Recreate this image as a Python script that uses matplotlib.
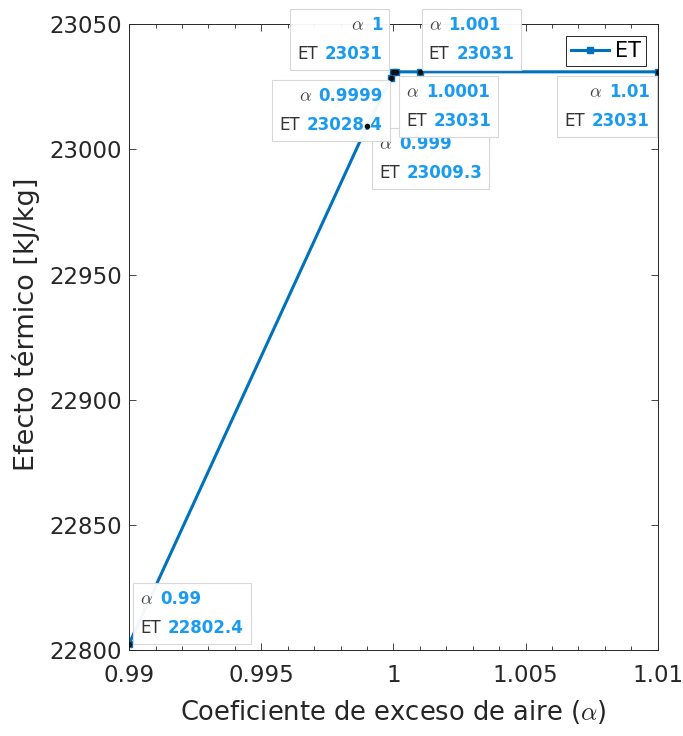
import matplotlib
matplotlib.use("Agg")
import matplotlib.pyplot as plt
from matplotlib.offsetbox import TextArea, HPacker, VPacker, AnnotationBbox
from matplotlib.ticker import MultipleLocator

plt.rcParams['font.family'] = ['DejaVu Sans']
plt.rcParams['mathtext.fontset'] = 'cm'

# data
alpha = [0.99, 0.999, 0.9999, 1.0, 1.0001, 1.001, 1.01]
et = [22802.4, 23009.3, 23028.4, 23031, 23031, 23031, 23031]
alpha_txt = ["0.99", "0.999", "0.9999", "1", "1.0001", "1.001", "1.01"]
et_txt = ["22802.4", "23009.3", "23028.4", "23031", "23031", "23031", "23031"]

# datatip placement: (frame corner at the point, frame offset in points, text alignment)
tips = [
    ((0, 0), (3, 0), 'left'),
    ((0, 1), (3.6, -1.4), 'left'),
    ((1, 1), (-0.7, -1.4), 'right'),
    ((1, 0), (-2.9, 1.4), 'right'),
    ((0, 1), (2.2, -2.9), 'left'),
    ((0, 0), (1.4, 1.4), 'left'),
    ((1, 1), (-0.7, -2.9), 'right'),
]

blue = '#0072BD'
val_col = '#1a9bf0'
dark = '#262626'
pad = 0.5  # frame padding, fraction of 10 pt

fig = plt.figure(figsize=(6.83, 7.36), dpi=100)
ax = fig.add_axes([0.189, 0.117, 0.774, 0.850])

ax.plot(alpha, et, color=blue, lw=2.2, marker='s', ms=4.5, label='ET')
ax.plot(alpha, et, ls='none', marker='o', ms=3, color='#111111', zorder=5)

ax.set_xlim(0.99, 1.01)
ax.set_ylim(22800, 23050)
ax.set_xticks([0.99, 0.995, 1.0, 1.005, 1.01])
ax.set_xticklabels(["0.99", "0.995", "1", "1.005", "1.01"])
ax.set_yticks([22800, 22850, 22900, 22950, 23000, 23050])
ax.xaxis.set_minor_locator(MultipleLocator(0.001))
ax.tick_params(which='both', direction='in', top=True, right=True, colors=dark,
               labelsize=16.5, width=0.6)
ax.tick_params(which='major', length=5)
ax.tick_params(which='minor', length=3)
ax.tick_params(axis='x', pad=10)
ax.tick_params(axis='y', pad=5)
for s in ax.spines.values():
    s.set_color(dark)
    s.set_linewidth(0.7)

ax.set_xlabel(r"Coeficiente de exceso de aire ($\alpha$)", fontsize=18.5, color=dark, labelpad=8)
ax.set_ylabel("Efecto térmico [kJ/kg]", fontsize=19.5, color=dark)
ax.yaxis.set_label_coords(-0.168, 0.52)

leg = ax.legend(loc='upper right', fontsize=15, fancybox=False, framealpha=1,
                edgecolor=dark, handlelength=1.8, borderpad=0.25,
                handletextpad=0.3, borderaxespad=0.55)
leg.get_frame().set_linewidth(0.7)

for i in range(len(alpha)):
    r1 = HPacker(children=[
        TextArea(r"$\alpha$", textprops=dict(color='#444444', fontsize=13)),
        TextArea(alpha_txt[i], textprops=dict(color=val_col, fontsize=12, fontweight='bold')),
    ], align='baseline', pad=0, sep=5)
    r2 = HPacker(children=[
        TextArea("ET", textprops=dict(color='#333333', fontsize=12)),
        TextArea(et_txt[i], textprops=dict(color=val_col, fontsize=12, fontweight='bold')),
    ], align='baseline', pad=0, sep=5)
    corner, off, al = tips[i]
    p = pad * 10
    dx = off[0] + (p if corner[0] == 0 else -p)
    dy = off[1] + (p if corner[1] == 0 else -p)
    box = VPacker(children=[r1, r2], align=al, pad=0, sep=8)
    ab = AnnotationBbox(box, (alpha[i], et[i]), xybox=(dx, dy), xycoords='data',
                        boxcoords='offset points', box_alignment=corner,
                        frameon=True, pad=pad, annotation_clip=False,
                        bboxprops=dict(fc='white', ec='#d6d6d6', lw=0.8, alpha=0.95))
    ax.add_artist(ab)

fig.savefig('out.png', dpi=100)
